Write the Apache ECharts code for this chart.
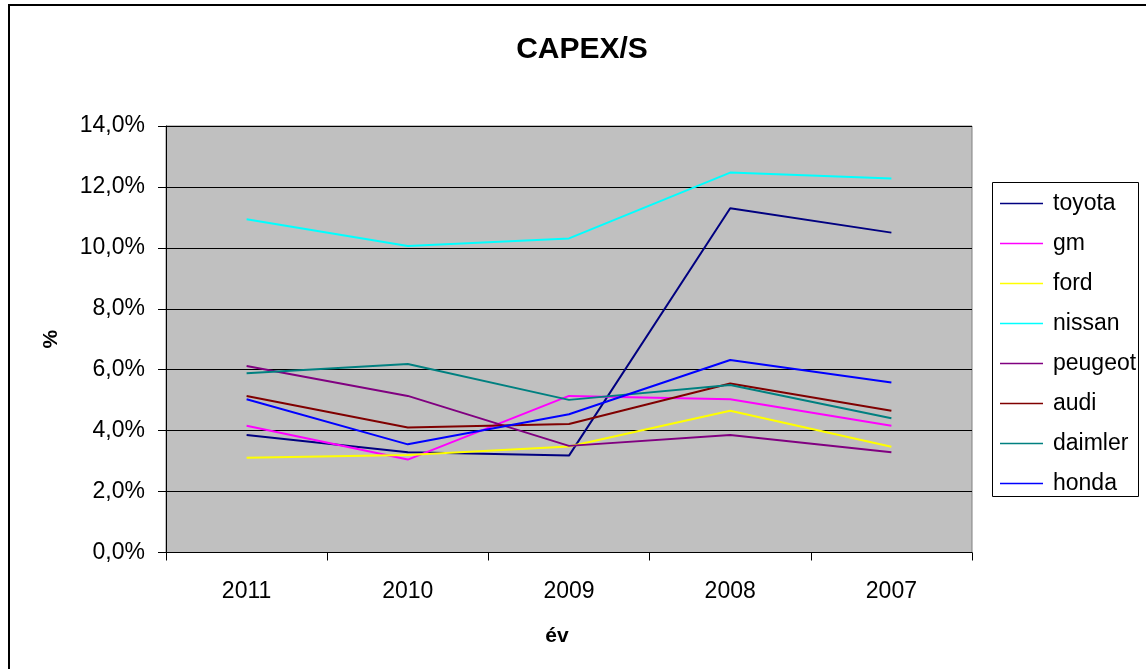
<!DOCTYPE html>
<html>
<head>
<meta charset="utf-8">
<title>CAPEX/S</title>
<script src="https://cdn.jsdelivr.net/npm/echarts@6/dist/echarts.min.js"></script>
<style>
  html, body { margin: 0; padding: 0; background: #fff; }
  #main { width: 1146px; height: 669px; }
</style>
</head>
<body>
<div id="main"></div>
<script>
// years, as on the x axis (newest first)
var years = ['2011', '2010', '2009', '2008', '2007'];

// CAPEX / sales in percent
var toyota  = [3.86, 3.29, 3.18, 11.30, 10.50];
var gm      = [4.16, 3.05, 5.14, 5.03, 4.16];
var ford    = [3.11, 3.20, 3.48, 4.65, 3.47];
var nissan  = [10.94, 10.06, 10.31, 12.47, 12.28];
var peugeot = [6.12, 5.14, 3.50, 3.86, 3.29];
var audi    = [5.14, 4.10, 4.22, 5.55, 4.65];
var daimler = [5.88, 6.19, 5.01, 5.50, 4.41];
var honda   = [5.03, 3.55, 4.54, 6.32, 5.58];

var seriesNames = ['toyota', 'gm', 'ford', 'nissan', 'peugeot', 'audi', 'daimler', 'honda'];
var seriesData = [toyota, gm, ford, nissan, peugeot, audi, daimler, honda];
var colors = ['#000080', '#FF00FF', '#FFFF00', '#00FFFF', '#800080', '#800000', '#008080', '#0000FF'];

var font = '"Liberation Sans", Arial, sans-serif';

var chartDom = document.getElementById('main');
var myChart = echarts.init(chartDom);
var option;

option = {
  animation: false,
  color: colors,
  title: {
    text: 'CAPEX/S',
    left: 577,
    top: 30,
    textAlign: 'center',
    textStyle: { fontFamily: font, fontSize: 30, fontWeight: 'bold', color: '#000' }
  },
  graphic: [
    {
      type: 'rect',
      shape: { x: 9, y: 5, width: 1200, height: 700 },
      style: { fill: null, stroke: '#000', lineWidth: 2 },
      silent: true
    },
    {
      type: 'rect',
      shape: { x: 992.5, y: 182.5, width: 146, height: 314 },
      style: { fill: '#fff', stroke: '#000', lineWidth: 1 },
      silent: true,
      z: -1
    }
  ],
  legend: {
    orient: 'vertical',
    left: 1000,
    top: 192,
    padding: 0,
    icon: 'rect',
    itemWidth: 43,
    itemHeight: 1.5,
    itemGap: 17,
    data: seriesNames,
    textStyle: { fontFamily: font, fontSize: 23, color: '#000', lineHeight: 23, padding: [0, 0, 0, 5] }
  },
  grid: {
    left: 166,
    top: 126,
    right: 174,
    bottom: 116.5,
    show: true,
    backgroundColor: '#C0C0C0',
    borderColor: '#808080',
    borderWidth: 1
  },
  xAxis: {
    type: 'category',
    data: years,
    name: 'év',
    nameLocation: 'middle',
    nameGap: 73,
    nameTextStyle: { fontFamily: font, fontSize: 21, fontWeight: 'bold', color: '#000', padding: [0, 24, 0, 0] },
    axisLine: { lineStyle: { color: '#000', width: 1 } },
    axisTick: { show: true, length: 8, lineStyle: { color: '#000' } },
    axisLabel: { fontFamily: font, fontSize: 23, color: '#000', margin: 28 },
    splitLine: { show: false }
  },
  yAxis: {
    type: 'value',
    min: 0,
    max: 14,
    interval: 2,
    name: '%',
    nameLocation: 'middle',
    nameGap: 104,
    nameRotate: 90,
    nameTextStyle: { fontFamily: font, fontSize: 21, fontWeight: 'bold', color: '#000' },
    axisLine: { show: true, lineStyle: { color: '#000', width: 1 } },
    axisTick: { show: true, length: 8, lineStyle: { color: '#000' } },
    axisLabel: {
      fontFamily: font, fontSize: 23, color: '#000', margin: 21,
      formatter: function (v) { return v.toFixed(1).replace('.', ',') + '%'; }
    },
    splitLine: { show: true, lineStyle: { color: '#000', width: 1 } }
  },
  series: seriesNames.map(function (name, i) {
    return {
      name: name,
      type: 'line',
      data: seriesData[i],
      symbol: 'none',
      lineStyle: { width: 2, color: colors[i] },
      itemStyle: { color: colors[i] }
    };
  })
};

option && myChart.setOption(option);
</script>
</body>
</html>
